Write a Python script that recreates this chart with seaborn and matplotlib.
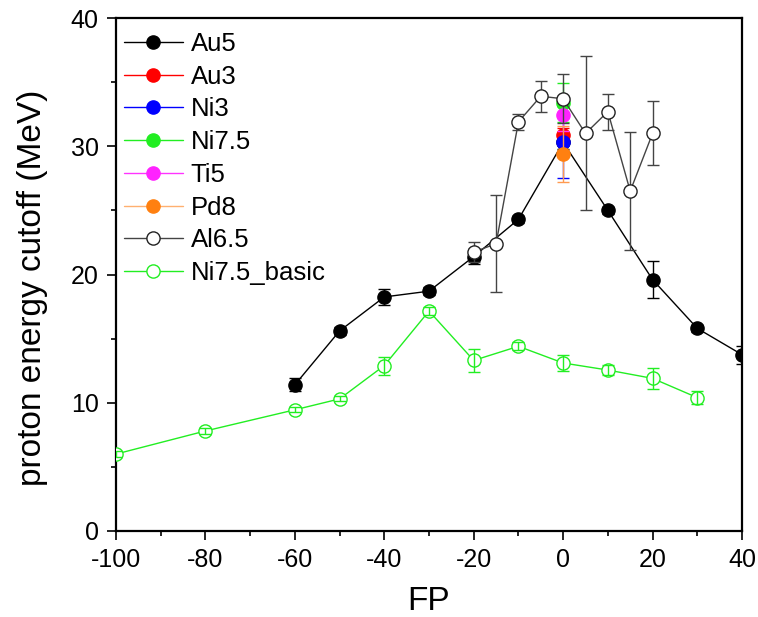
import numpy as np
import pandas as pd
import matplotlib
matplotlib.use("Agg")
import matplotlib.pyplot as plt
from matplotlib.ticker import MultipleLocator
import seaborn as sns

# ---- data ----
au5_x = [-60, -50, -40, -30, -20, -10, 0, 10, 20, 30, 40]
au5_y = [11.4, 15.6, 18.25, 18.7, 21.4, 24.3, 30.3, 25.0, 19.6, 15.8, 13.75]
au5_e = [0.5, 0.3, 0.6, 0.3, 0.6, 0.3, 0.5, 0.3, 1.45, 0.3, 0.7]

au3_x = [0]; au3_y = [30.9]; au3_e = [0.5]
ni3_x = [0]; ni3_y = [30.3]; ni3_e = [2.8]
ni75_x = [0]; ni75_y = [33.4]; ni75_e = [1.5]
ti5_x = [0]; ti5_y = [32.4]; ti5_e = [1.2]
pd8_x = [0]; pd8_y = [29.4]; pd8_e = [2.2]

al65_x = [-20, -15, -10, -5, 0, 5, 10, 15, 20]
al65_y = [21.75, 22.4, 31.9, 33.9, 33.7, 31.0, 32.7, 26.5, 31.0]
al65_e = [0.8, 3.8, 0.6, 1.2, 1.9, 6.0, 1.4, 4.6, 2.5]

basic_x = [-100, -80, -60, -50, -40, -30, -20, -10, 0, 10, 20, 30]
basic_y = [6.0, 7.8, 9.45, 10.3, 12.9, 17.15, 13.3, 14.4, 13.1, 12.55, 11.9, 10.4]
basic_e = [0.2, 0.2, 0.2, 0.2, 0.7, 0.3, 0.9, 0.3, 0.6, 0.4, 0.8, 0.5]

x_ticks = [-100, -80, -60, -40, -20, 0, 20, 40]
y_ticks = [0, 10, 20, 30, 40]

sns.set_style("ticks")
plt.rcParams['font.family'] = ['Liberation Sans', 'DejaVu Sans']
plt.rcParams['axes.unicode_minus'] = False
plt.rcParams['text.color'] = 'black'
plt.rcParams['axes.labelcolor'] = 'black'
plt.rcParams['xtick.color'] = 'black'
plt.rcParams['ytick.color'] = 'black'

fig = plt.figure(figsize=(7.58, 6.17), dpi=100)
ax = fig.add_axes([116/758, 1 - 531/617, (742-116)/758, (531-18)/617])

series = [
    ("Au5", au5_x, au5_y, au5_e, "black", "black", "black", "black"),
    ("Au3", au3_x, au3_y, au3_e, "#ff0000", "#ff0000", "#ff0000", "#ff0000"),
    ("Ni3", ni3_x, ni3_y, ni3_e, "#0000ff", "#0000ff", "#0000ff", "#0000ff"),
    ("Ni7.5", ni75_x, ni75_y, ni75_e, "#22ee22", "#22ee22", "#22ee22", "#22ee22"),
    ("Ti5", ti5_x, ti5_y, ti5_e, "#ff33ff", "#ff22ff", "#ff22ff", "#ff33ff"),
    ("Pd8", pd8_x, pd8_y, pd8_e, "#ffb070", "#ff8010", "#ff8010", "#ff9a50"),
    ("Al6.5", al65_x, al65_y, al65_e, "#444444", "white", "#222222", "#444444"),
    ("Ni7.5_basic", basic_x, basic_y, basic_e, "#22ee22", "white", "#22ee22", "#22ee22"),
]

for i, (name, xs, ys, es, lc, mfc, mec, ec) in enumerate(series):
    df = pd.DataFrame({"FP": xs, "cut": ys})
    z = 3 + i
    sns.lineplot(data=df, x="FP", y="cut", ax=ax, color=lc, linewidth=1.0,
                 marker="o", markersize=9.5, markerfacecolor=mfc,
                 markeredgecolor=mec, markeredgewidth=1.0, label=name,
                 sort=False, errorbar=None, zorder=z)
    ez = z + 0.5 if name == "Ni7.5_basic" else z - 0.5
    ax.errorbar(xs, ys, yerr=es, fmt="none", ecolor=ec, elinewidth=1.0,
                capsize=4.5, capthick=1.0, zorder=ez)

ax.set_xlim(-100, 40)
ax.set_ylim(0, 40)
ax.set_xticks(x_ticks)
ax.set_yticks(y_ticks)
ax.xaxis.set_minor_locator(MultipleLocator(10))
ax.yaxis.set_minor_locator(MultipleLocator(5))
ax.tick_params(which="major", direction="out", length=6.5, width=1.2,
               labelsize=18, pad=6, top=False, right=False, colors="black")
ax.tick_params(which="minor", direction="out", length=3.5, width=1.2,
               top=False, right=False, colors="black")
for s in ax.spines.values():
    s.set_linewidth(1.6)
    s.set_visible(True)
    s.set_color("black")

ax.set_xlabel("FP", fontsize=24)
ax.set_ylabel("proton energy cutoff (MeV)", fontsize=24)
ax.xaxis.set_label_coords(0.5, -0.107)
ax.yaxis.set_label_coords(-0.109, 0.474)

leg = ax.legend(loc="upper left", bbox_to_anchor=(0.0, 0.988),
                frameon=False, fontsize=18.5,
                handlelength=2.3, handletextpad=0.3, labelspacing=0.34,
                borderpad=0.2, borderaxespad=0.1)

fig.savefig("out.png", dpi=100)
